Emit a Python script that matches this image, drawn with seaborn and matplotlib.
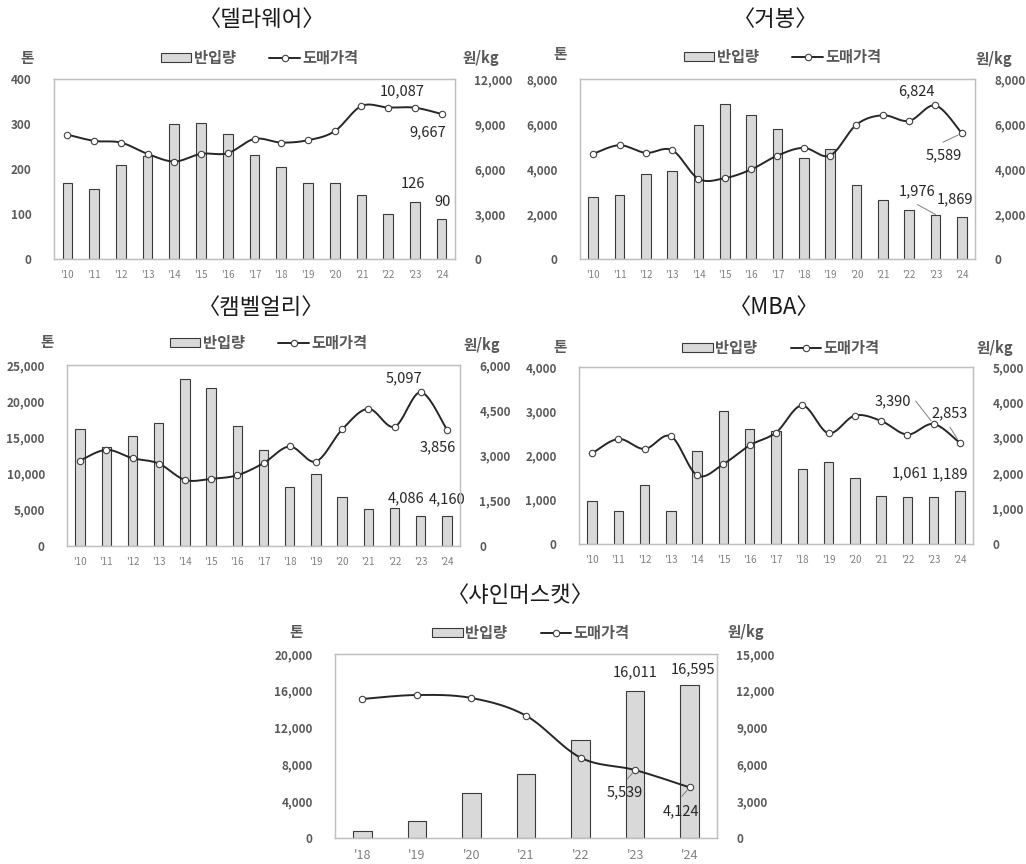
import numpy as np
import matplotlib
matplotlib.use("Agg")
import matplotlib.pyplot as plt
from matplotlib.patches import Patch
from matplotlib.lines import Line2D
import seaborn as sns

sns.set_theme(style="white")
plt.rcParams["font.family"] = ["Noto Sans CJK KR", "DejaVu Sans"]

# ---- data ----
years_long = ["'10", "'11", "'12", "'13", "'14", "'15", "'16", "'17",
              "'18", "'19", "'20", "'21", "'22", "'23", "'24"]
years_short = ["'18", "'19", "'20", "'21", "'22", "'23", "'24"]

delaware_vol = [169, 155, 208, 230, 301, 303, 277, 231, 204, 169, 168, 143, 100, 126, 90]
delaware_price = [8296, 7874, 7763, 7009, 6499, 7009, 7054, 8008, 7763, 7919, 8518,
                  10200, 10100, 10087, 9667]

kyoho_vol = [2736, 2854, 3756, 3904, 5974, 6876, 6418, 5782, 4510, 4880, 3268, 2603,
             2159, 1976, 1869]
kyoho_price = [4673, 5057, 4717, 4836, 3564, 3593, 3978, 4599, 4939, 4599, 5974, 6388,
               6137, 6824, 5589]

campbell_vol = [16144, 13700, 15129, 16974, 23063, 21817, 16605, 13192, 8210, 9917,
                6827, 5074, 5304, 4086, 4160]
campbell_price = [2834, 3188, 2911, 2734, 2192, 2225, 2347, 2745, 3299, 2801, 3863,
                  4550, 3952, 5097, 3856]

mba_vol = [975, 741, 1323, 741, 2094, 3002, 2594, 2548, 1701, 1845, 1482, 1096,
           1055, 1061, 1189]
mba_price = [2561, 2968, 2684, 3043, 1938, 2259, 2788, 3147, 3913, 3129, 3629, 3478,
             3091, 3390, 2853]

shine_vol = [725, 1812, 4891, 6993, 10688, 16011, 16595]
shine_price = [11332, 11658, 11413, 9973, 6549, 5539, 4124]

BAR_FILL = "#d9d9d9"
BAR_EDGE = "#3a3a3a"
LINE_COL = "#262626"
TICK_COL = "#595959"
FIG_W, FIG_H = 1026, 864


def smooth_curve(ys, steps=24):
    """Cubic Bezier smoothing through every point (Catmull-Rom control points)."""
    pts = np.column_stack([np.arange(len(ys), dtype=float), np.asarray(ys, dtype=float)])
    out = [pts[0]]
    t = np.linspace(0, 1, steps)[1:, None]
    for i in range(len(pts) - 1):
        p0 = pts[i - 1] if i > 0 else pts[i]
        p1, p2 = pts[i], pts[i + 1]
        p3 = pts[i + 2] if i + 2 < len(pts) else pts[i + 1]
        c1 = p1 + (p2 - p0) / 6
        c2 = p2 - (p3 - p1) / 6
        seg = ((1 - t) ** 3) * p1 + 3 * ((1 - t) ** 2) * t * c1 + 3 * (1 - t) * t ** 2 * c2 + t ** 3 * p2
        out.extend(seg)
    out = np.array(out)
    return out[:, 0], out[:, 1]


def px_box(x0, y0, x1, y1):
    return [x0 / FIG_W, 1 - y1 / FIG_H, (x1 - x0) / FIG_W, (y1 - y0) / FIG_H]


fig = plt.figure(figsize=(FIG_W / 100, FIG_H / 100), dpi=100)


def put_labels(axis, values, spec, gap):
    for idx, (dx, dy, lead) in spec.items():
        axis.annotate(f"{values[idx]:,}", xy=(idx, values[idx]), xytext=(dx, dy),
                      textcoords="offset pixels", ha="center", va="center",
                      fontsize=10.5, color="#262626", zorder=6)
        if lead is not None:
            axis.annotate("", xy=(idx, values[idx]), xytext=lead,
                          textcoords="offset pixels",
                          arrowprops=dict(arrowstyle="-", color="#7f7f7f", lw=0.7,
                                          shrinkA=0, shrinkB=gap))


def panel(box, title, title_xy, years, vol, price, lticks, rticks,
          legend_y, ton_xy, won_xy, vol_labels, price_labels, xfs=7, bar_w=0.36):
    ax = fig.add_axes(px_box(*box))
    sns.barplot(x=years, y=vol, ax=ax, color=BAR_FILL, edgecolor=BAR_EDGE,
                linewidth=0.8, width=bar_w, saturation=1)
    ax.set_xlim(-0.5, len(years) - 0.5)
    ax.set_ylim(lticks[0], lticks[-1])
    ax.set_yticks(lticks)
    ax.set_yticklabels([f"{v:,}" for v in lticks], fontsize=8.5, fontweight="bold", color=TICK_COL)
    ax.set_xticks(range(len(years)))
    ax.set_xticklabels(years, fontsize=xfs, color="#7f7f7f")
    ax.tick_params(axis="y", length=0, pad=16)
    ax.tick_params(axis="x", length=0, pad=8)
    ax.set_xlabel("")
    ax.set_ylabel("")

    ax2 = ax.twinx()
    sx, sy = smooth_curve(price)
    ax2.plot(sx, sy, color=LINE_COL, lw=1.4, zorder=3)
    ax2.plot(range(len(price)), price, ls="none", marker="o", ms=4.6,
             mfc="white", mec="#404040", mew=0.8, zorder=4)
    ax2.set_ylim(rticks[0], rticks[-1])
    ax2.set_yticks(rticks)
    ax2.set_yticklabels([f"{v:,}" for v in rticks], fontsize=8.5, fontweight="bold", color=TICK_COL)
    ax2.tick_params(axis="y", length=0, pad=14)
    ax2.set_xlim(-0.5, len(years) - 0.5)

    for a in (ax, ax2):
        for s in a.spines.values():
            s.set_color("#bfbfbf")
            s.set_linewidth(0.9)

    put_labels(ax, vol, vol_labels, 0)
    put_labels(ax2, price, price_labels, 3)

    # title, unit labels, legend
    fig.text(title_xy[0] / FIG_W, 1 - title_xy[1] / FIG_H, f"〈{title}〉",
             ha="center", va="center", fontsize=16, color="#1a1a1a")
    fig.text(ton_xy[0] / FIG_W, 1 - ton_xy[1] / FIG_H, "톤", ha="center", va="center",
             fontsize=10.5, fontweight="bold", color=TICK_COL)
    fig.text(won_xy[0] / FIG_W, 1 - won_xy[1] / FIG_H, "원/kg", ha="center", va="center",
             fontsize=10.5, fontweight="bold", color=TICK_COL)
    handles = [Patch(facecolor=BAR_FILL, edgecolor=BAR_EDGE, linewidth=0.8),
               Line2D([], [], color=LINE_COL, lw=1.4, marker="o", ms=4.6,
                      mfc="white", mec="#404040", mew=0.8)]
    cx = (box[0] + box[2]) / 2 + 5
    leg = fig.legend(handles, ["반입량", "도매가격"], loc="center", ncol=2,
                     bbox_to_anchor=(cx / FIG_W, 1 - legend_y / FIG_H),
                     frameon=False, fontsize=11, handlelength=2.0, handleheight=0.6,
                     handletextpad=0.15, columnspacing=2.2)
    for t in leg.get_texts():
        t.set_color(TICK_COL)
        t.set_fontweight("bold")
    return ax, ax2


panel((54, 79, 455, 259), "델라웨어", (262, 20), years_long, delaware_vol, delaware_price,
      [0, 100, 200, 300, 400], [0, 3000, 6000, 9000, 12000],
      58, (27, 58), (481, 58),
      {13: (-2, 18, None), 14: (1, 17, None)},
      {13: (-13, 16, None), 14: (-14, -18, None)})

panel((580, 79, 975, 259), "거봉", (776, 20), years_long, kyoho_vol, kyoho_price,
      [0, 2000, 4000, 6000, 8000], [0, 2000, 4000, 6000, 8000],
      57, (560, 54), (994, 59),
      {13: (-18, 23, (-18, 10)), 14: (-7, 18, None)},
      {13: (-19, 14, None), 14: (-18, -22, (-19, -9))})

panel((67, 365, 460, 546), "캠벨얼리", (261, 308), years_long, campbell_vol, campbell_price,
      [0, 5000, 10000, 15000, 20000, 25000], [0, 1500, 3000, 4500, 6000],
      343, (47, 342), (482, 345),
      {13: (-15, 18, None), 14: (0, 17, None)},
      {13: (-17, 14, None), 14: (-9, -18, None)})

panel((579, 367, 973, 544), "MBA", (774, 308), years_long, mba_vol, mba_price,
      [0, 1000, 2000, 3000, 4000], [0, 1000, 2000, 3000, 4000, 5000],
      348, (560, 347), (995, 348),
      {13: (-23, 24, None), 14: (-10, 17, None)},
      {13: (-41, 23, (-18, 23)), 14: (-10, 30, (-10, 16))})

panel((335, 654, 717, 838), "샤인머스캣", (520, 595), years_short, shine_vol, shine_price,
      [0, 4000, 8000, 12000, 16000, 20000], [0, 3000, 6000, 9000, 12000, 15000],
      633, (296, 632), (746, 632),
      {5: (0, 18, None), 6: (3, 16, None)},
      {5: (-10, -22, (-8, -9)), 6: (-9, -24, (-8, -9))},
      xfs=9, bar_w=0.34)

fig.savefig("out.png", dpi=100, facecolor="white")
